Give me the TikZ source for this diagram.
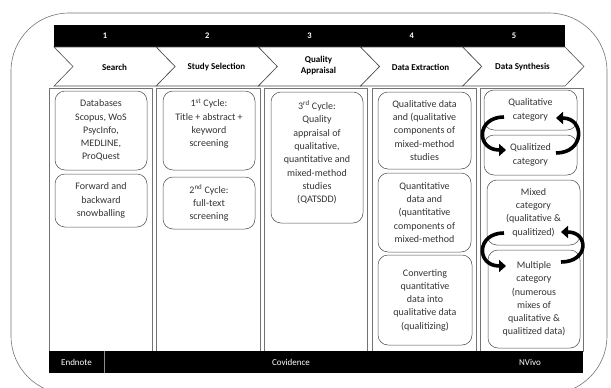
\documentclass[tikz,border=0pt]{standalone}
\usepackage{fontspec}
\setmainfont{Carlito}
\usetikzlibrary{arrows.meta}
\begin{document}
\begin{tikzpicture}[x=1pt,y=-1pt,
  txt/.style={font=\fontsize{10}{13.3}\selectfont, text=black!80, align=center, inner sep=0pt},
  ibox/.style={draw=black!70, line width=0.5pt, rounded corners=10pt, inner sep=0pt},
  colbox/.style={draw=black!55, line width=0.6pt},
  chev/.style={draw=black!70, fill=white, line width=0.6pt},
  hdr/.style={font=\fontsize{9}{11}\selectfont\bfseries, align=center, inner sep=0pt},
  num/.style={font=\fontsize{8.5}{10}\selectfont\bfseries, text=white, inner sep=0pt},
  barlbl/.style={font=\fontsize{9}{11}\selectfont, text=white, inner sep=0pt},
  carrow/.style={line width=3.6pt, -{Triangle[length=7pt,width=12pt]}}]
\useasboundingbox (0,0) rectangle (611,388);
% outer frame
\draw[black!55, line width=0.6pt, rounded corners=58pt] (11,13) rectangle (607,394);
% header bar
\fill[black] (54,25) rectangle (565,47);
% chevrons
\foreach \i/\a/\b in {0/54/156.2,1/156.2/258.4,2/258.4/360.6,3/360.6/462.8,4/462.8/565}{
  \draw[chev] (\a,47) -- (\b,47) -- (\b+19,66.5) -- (\b,86) -- (\a,86) -- (\a+19,66.5) -- cycle;
}
\node[num] (n1) at (105.1,36) {1};
\node[num] (n2) at (207.3,36) {2};
\node[num] (n3) at (309.5,36) {3};
\node[num] (n4) at (411.7,36) {4};
\node[num] (n5) at (513.9,36) {5};
\node[hdr] (h1) at (114.5,67) {Search};
\node[hdr] (h2) at (216.5,67) {Study Selection};
\node[hdr] (h3) at (318.5,66) {Quality\\Appraisal};
\node[hdr] (h4) at (420.5,67) {Data Extraction};
\node[hdr] (h5) at (522.5,67) {Data Synthesis};
% columns
\draw[colbox] (49,88) rectangle (152,351);
\draw[colbox] (156,88) rectangle (260,351);
\draw[colbox] (264,88) rectangle (367,351);
\draw[colbox] (372,88) rectangle (476,351);
\draw[colbox] (480,88) rectangle (583,351);
% column 1
\node[ibox, txt, minimum width=92pt, minimum height=79pt] (db) at (101,130.5)
  {Databases\\Scopus, WoS\\PsycInfo,\\MEDLINE,\\ProQuest};
\node[ibox, txt, minimum width=92pt, minimum height=53pt] (snow) at (101,200.5)
  {Forward and\\backward\\snowballing};
% column 2
\node[ibox, minimum width=92pt, minimum height=79pt] (c1) at (209,130.5) {};
\node[txt] (c1t) at (209,123.5) {1\textsuperscript{st} Cycle:\\Title + abstract +\\keyword\\screening};
\node[ibox, txt, minimum width=92pt, minimum height=52pt] (c2) at (209,203)
  {2\textsuperscript{nd} Cycle:\\full-text\\screening};
% column 3
\node[ibox, minimum width=92pt, minimum height=131pt] (c3) at (317,157.5) {};
\node[txt] (c3t) at (317,152.5) {3\textsuperscript{rd} Cycle:\\Quality\\appraisal of\\qualitative,\\quantitative and\\mixed-method\\studies\\(QATSDD)};
% column 4
\node[ibox, txt, minimum width=93pt, minimum height=77pt] (e1) at (424.5,130.5)
  {Qualitative data\\and (qualitative\\components of\\mixed-method\\studies};
\node[ibox, txt, minimum width=93pt, minimum height=79pt] (e2) at (424.5,212.5)
  {Quantitative\\data and\\(quantitative\\components of\\mixed-method};
\node[ibox, txt, minimum width=94pt, minimum height=90pt] (e3) at (425,300)
  {Converting\\quantitative\\data into\\qualitative data\\(qualitizing)};
% column 5
\node[ibox, txt, minimum width=93pt, minimum height=40pt] (qlt) at (530.5,110)
  {Qualitative\\category};
\node[ibox, txt, minimum width=93pt, minimum height=40pt] (qlz) at (530.5,155)
  {Qualitized\\category};
\node[ibox, txt, minimum width=93pt, minimum height=65pt] (mix) at (533.5,212.5)
  {Mixed\\category\\(qualitative \&\\qualitized)};
\node[ibox, txt, minimum width=92pt, minimum height=98pt] (mul) at (534,299)
  {Multiple\\category\\(numerous\\mixes of\\qualitative \&\\qualitized data)};
% curved arrows
\coordinate (a1s) at (504,117); \coordinate (a1e) at (506,150);
\coordinate (a2s) at (556,153); \coordinate (a2e) at (556,118);
\coordinate (a3s) at (504,233); \coordinate (a3e) at (506,266);
\coordinate (a4s) at (561,262); \coordinate (a4e) at (561,232);
\draw[carrow] (a1s) .. controls (476,117) and (476,150) .. (a1e);
\draw[carrow] (a2s) .. controls (585,153) and (585,118) .. (a2e);
\draw[carrow] (a3s) .. controls (476,233) and (476,266) .. (a3e);
\draw[carrow] (a4s) .. controls (589,262) and (589,232) .. (a4e);
% bottom bar
\fill[black] (49,351) rectangle (583,373);
\draw[black!45, line width=0.6pt] (104,351) -- (104,373);
\node[barlbl] (endn) at (76.5,362) {Endnote};
\node[barlbl] (cov) at (291,362) {Covidence};
\node[barlbl] (nviv) at (530,362) {NVivo};
\end{tikzpicture}
\end{document}
